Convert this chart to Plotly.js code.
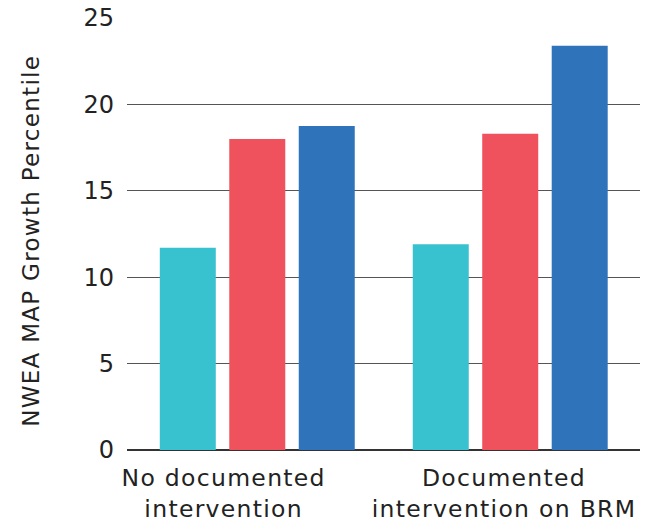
<!DOCTYPE html>
<html>
<head>
<meta charset="utf-8">
<script src="https://cdn.plot.ly/plotly-3.0.1.min.js"></script>
<style>
  html, body { margin: 0; padding: 0; background: #fff; }
  #chart { width: 654px; height: 523px; }
  .main-svg .annotation-text { letter-spacing: 1.3px; }
</style>
</head>
<body>
<div id="chart"></div>
<script>
// Data
const categories = ["No documented intervention", "Documented intervention on BRM"];
const categoryLabels = ["No documented<br>intervention", "Documented<br>intervention on BRM"];
const seriesNames = ["Group A", "Group B", "Group C"];
const seriesA = [11.7, 11.9];
const seriesB = [18.0, 18.3];
const seriesC = [18.75, 23.4];
const yTickVals = [0, 5, 10, 15, 20, 25];
const yTitle = "NWEA MAP Growth Percentile";

const colors = ["#38C1CE", "#EF525D", "#2F74BA"];
const seriesValues = [seriesA, seriesB, seriesC];

const traces = seriesValues.map((vals, i) => ({
  type: "bar",
  name: seriesNames[i],
  x: categories,
  y: vals,
  marker: { color: colors[i], line: { width: 0 } },
  hoverinfo: "x+y"
}));

const labelOffsets = [-0.135, -0.025];
const annotations = categoryLabels.map((t, i) => ({
  text: t,
  x: i + labelOffsets[i],
  xref: "x",
  y: 0,
  yref: "paper",
  yanchor: "top",
  xanchor: "center",
  yshift: -12,
  showarrow: false,
  align: "center",
  font: { family: "DejaVu Sans", size: 23.5, color: "#222" }
}));

// Y-axis title, placed as rotated text
annotations.push({
  text: yTitle,
  textangle: -90,
  xref: "paper",
  x: -0.187,
  xanchor: "center",
  yref: "paper",
  y: 0.484,
  yanchor: "middle",
  showarrow: false,
  font: { family: "DejaVu Sans", size: 23, color: "#222" }
});

const layout = {
  width: 654,
  height: 523,
  margin: { l: 127, r: 14, t: 18, b: 73, pad: 0 },
  paper_bgcolor: "#fff",
  plot_bgcolor: "#fff",
  showlegend: false,
  barmode: "group",
  bargap: 0.176,
  bargroupgap: 0.194,
  font: { family: "DejaVu Sans", color: "#222" },
  xaxis: {
    type: "category",
    range: [-0.515, 1.513],
    showticklabels: false,
    showgrid: false,
    zeroline: false,
    showline: false,
    ticks: "",
    fixedrange: true
  },
  yaxis: {
    range: [0, 25],
    tickvals: yTickVals,
    ticktext: yTickVals.map(String),
    showgrid: true,
    gridcolor: "#555",
    gridwidth: 1,
    zeroline: true,
    zerolinecolor: "#333",
    zerolinewidth: 1.5,
    showline: false,
    ticks: "",
    ticklabelstandoff: 12,
    tickfont: { family: "DejaVu Sans", size: 24, color: "#222" },
    automargin: false,
    fixedrange: true
  },
  annotations: annotations
};

Plotly.newPlot("chart", traces, layout, { displayModeBar: false, staticPlot: true });
</script>
</body>
</html>
